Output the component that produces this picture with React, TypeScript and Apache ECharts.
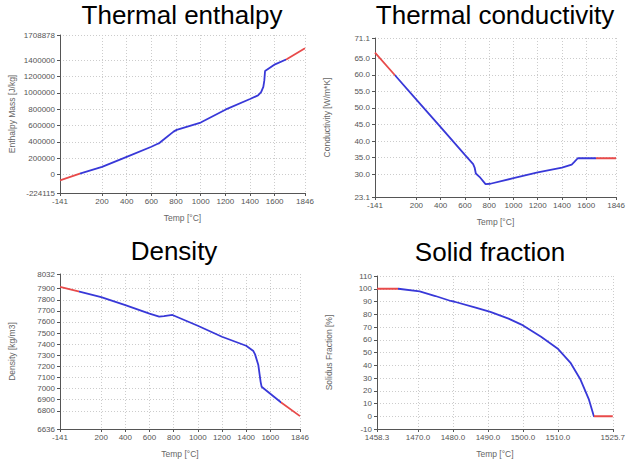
import React, { useEffect, useRef } from "react";
import * as echarts from "echarts";

// ---- Data ----
const enthalpyTemp = [-141, 20, 200, 400, 600, 643, 660, 700, 780, 805, 1000, 1200, 1400, 1465, 1490, 1508, 1516, 1522, 1603, 1697, 1846];
const enthalpyValue = [-70000, 12000, 95000, 218000, 342000, 372000, 382000, 430000, 527000, 548000, 638000, 795000, 926000, 971000, 1010000, 1075000, 1150000, 1268000, 1350000, 1412000, 1548000];

const conductivityTemp = [-141, 20, 200, 400, 600, 668, 680, 690, 720, 770, 810, 1000, 1200, 1400, 1480, 1500, 1530, 1680, 1846];
const conductivityValue = [66.7, 60.0, 52.5, 44.2, 35.8, 33.0, 32.0, 30.2, 29.2, 27.0, 27.1, 28.8, 30.5, 32.0, 32.9, 33.6, 34.8, 34.8, 34.8];

const densityTemp = [-141, 20, 200, 400, 600, 680, 720, 790, 1000, 1200, 1400, 1460, 1474, 1501, 1520, 1528, 1690, 1846];
const densityValue = [7915, 7873, 7824, 7752, 7675, 7648, 7652, 7663, 7566, 7467, 7386, 7338, 7308, 7212, 7061, 7017, 6875, 6752];

const fractionTemp = [1458.3, 1464.4, 1470.5, 1475, 1479.4, 1480.5, 1486.5, 1490.7, 1495.9, 1499.6, 1505.2, 1509.9, 1513.7, 1516.5, 1518.9, 1520.3, 1525.7];
const fractionValue = [100, 100, 97.9, 94.3, 90.4, 89.8, 85.2, 81.8, 76.6, 71.9, 62.3, 53.2, 41.6, 28.6, 13.0, 0, 0];

// red (outside fitted range) thresholds on temperature
const enthalpyRange = [20, 1690];
const conductivityRange = [20, 1680];
const densityRange = [20, 1690];
const fractionRange = [1464.4, 1520.3];

// tick labels
const tempTicks = [-141, 200, 400, 600, 800, 1000, 1200, 1400, 1600, 1846];
const enthalpyTicks = [-224115, 0, 200000, 400000, 600000, 800000, 1000000, 1200000, 1400000, 1708878];
const conductivityTicks = [23.1, 30, 35, 40, 45, 50, 55, 60, 65, 71.1];
const densityTicks = [6636, 6800, 6900, 7000, 7100, 7200, 7300, 7400, 7500, 7600, 7700, 7800, 7900, 8032];
const fractionTicks = [-10, 0, 10, 20, 30, 40, 50, 60, 70, 80, 90, 100, 110];
const fractionTempTicks = [1458.3, 1470, 1480, 1490, 1500, 1510, 1525.7];

const titles = ["Thermal enthalpy", "Thermal conductivity", "Density", "Solid fraction"];
const yNames = ["Enthalpy Mass [J/kg]", "Conductivity [W/m*K]", "Density [kg/m3]", "Solidus Fraction [%]"];
const xName = "Temp [°C]";

const BLUE = "#3838d8";
const RED = "#e84a4a";
const FONT = "Liberation Sans";

function zip(a: number[], b: number[]) {
  return a.map((v, i) => [v, b[i]]);
}

export default function App() {
  const ref = useRef<HTMLDivElement>(null);
  useEffect(() => {
    document.body.style.margin = "0";
    const chart = echarts.init(ref.current!, null, { renderer: "svg" });

    const grids = [
      { left: 60, top: 35, width: 245, height: 158 },
      { left: 375, top: 38, width: 247, height: 159 },
      { left: 60, top: 274, width: 240, height: 156 },
      { left: 377, top: 276, width: 239, height: 153 },
    ];

    const xTicksList = [tempTicks, tempTicks, tempTicks, fractionTempTicks];
    const yTicksList = [enthalpyTicks, conductivityTicks, densityTicks, fractionTicks];
    const xFmt = [
      (v: number) => String(v),
      (v: number) => String(v),
      (v: number) => String(v),
      (v: number) => v.toFixed(1),
    ];
    const yFmt = [
      (v: number) => String(v),
      (v: number) => v.toFixed(1),
      (v: number) => String(v),
      (v: number) => String(v),
    ];

    const axisCommon = (ticks: number[], fmt: (v: number) => string, margin: number) => ({
      type: "value",
      min: ticks[0],
      max: ticks[ticks.length - 1],
      axisLine: { show: true, onZero: false, lineStyle: { color: "#555", width: 1 } },
      axisTick: { show: true, length: 3, customValues: ticks, lineStyle: { color: "#555" } },
      axisLabel: {
        customValues: ticks,
        formatter: fmt,
        fontSize: 8,
        fontFamily: FONT,
        color: "#555",
        margin,
        showMinLabel: true,
        showMaxLabel: true,
        hideOverlap: false,
      },
      splitLine: { show: true, lineStyle: { color: "#cccccc", type: [1, 2], width: 1 } },
      nameTextStyle: { fontSize: 8.5, fontFamily: FONT, color: "#666" },
    });

    const xAxis = grids.map((_, i) => ({
      ...axisCommon(xTicksList[i], xFmt[i], 4),
      gridIndex: i,
      name: xName,
      nameLocation: "middle",
      nameGap: 20,
    }));
    const yAxis = grids.map((_, i) => ({
      ...axisCommon(yTicksList[i], yFmt[i], 5),
      gridIndex: i,
      name: yNames[i],
      nameLocation: "middle",
      nameGap: 44,
    }));

    const datasets = [
      zip(enthalpyTemp, enthalpyValue),
      zip(conductivityTemp, conductivityValue),
      zip(densityTemp, densityValue),
      zip(fractionTemp, fractionValue),
    ];
    const ranges = [enthalpyRange, conductivityRange, densityRange, fractionRange];

    const series = datasets.map((d, i) => ({
      type: "line",
      xAxisIndex: i,
      yAxisIndex: i,
      data: d,
      showSymbol: false,
      symbol: "none",
      smooth: false,
      lineStyle: { width: 1.8 },
    }));

    const visualMap = ranges.map((r, i) => ({
      type: "piecewise",
      show: false,
      seriesIndex: i,
      dimension: 0,
      pieces: [
        { lt: r[0], color: RED },
        { gte: r[0], lte: r[1], color: BLUE },
        { gt: r[1], color: RED },
      ],
    }));

    const titlePos = [
      [182, 15],
      [495, 15],
      [174, 251],
      [490, 252],
    ];
    const graphic = titles.map((t, i) => ({
      type: "text",
      x: titlePos[i][0],
      y: titlePos[i][1],
      silent: true,
      style: {
        text: t,
        fontSize: 26,
        fontFamily: FONT,
        fill: "#000",
        align: "center",
        verticalAlign: "middle",
      },
    }));

    chart.setOption({
      animation: false,
      backgroundColor: "#fff",
      grid: grids,
      xAxis,
      yAxis,
      series,
      visualMap,
      graphic,
    } as any);

    return () => chart.dispose();
  }, []);

  return <div ref={ref} style={{ width: 628, height: 459 }} />;
}
